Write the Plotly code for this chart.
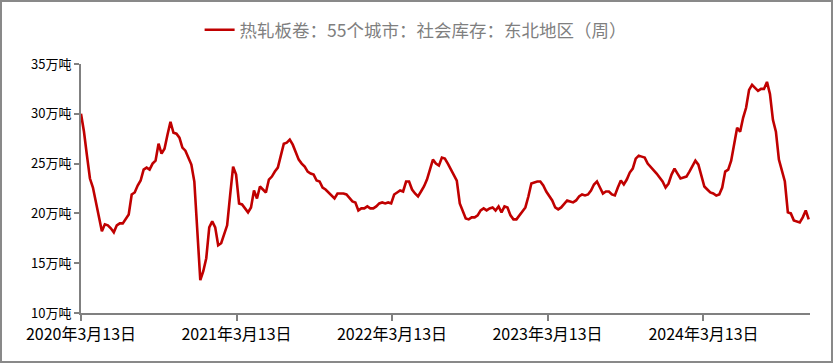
import plotly.graph_objects as go
import pandas as pd

start_date = "2020-03-13"
values = [
    30.0, 28.2, 25.8, 23.5, 22.6, 21.0, 19.6, 18.2, 18.9, 18.8,
    18.5, 18.1, 18.8, 19.0, 19.0, 19.4, 19.9, 21.9, 22.1, 22.8,
    23.3, 24.4, 24.6, 24.4, 25.0, 25.3, 27.0, 26.0, 26.5, 27.9,
    29.2, 28.1, 28.0, 27.6, 26.6, 26.3, 25.5, 24.9, 23.2, 18.5,
    13.3, 14.2, 15.5, 18.6, 19.2, 18.6, 16.8, 17.0, 17.9, 18.8,
    21.8, 24.7, 23.9, 21.0, 20.9, 20.5, 20.1, 20.6, 22.3, 21.5,
    22.7, 22.4, 22.1, 23.4, 23.7, 24.2, 24.6, 25.8, 27.0, 27.1,
    27.4, 26.9, 26.2, 25.4, 25.0, 24.7, 24.2, 24.0, 23.9, 23.3,
    23.2, 22.6, 22.4, 22.1, 21.8, 21.5, 22.0, 22.0, 22.0, 21.9,
    21.5, 21.2, 21.1, 20.3, 20.5, 20.5, 20.7, 20.5, 20.5, 20.7,
    21.0, 21.1, 21.0, 21.1, 21.0, 21.9, 22.1, 22.3, 22.2, 23.2,
    23.2, 22.4, 22.0, 21.7, 22.2, 22.7, 23.4, 24.5, 25.4, 25.0,
    24.8, 25.6, 25.5, 25.0, 24.4, 23.8, 23.3, 21.0, 20.2, 19.5,
    19.4, 19.6, 19.6, 19.8, 20.3, 20.5, 20.3, 20.5, 20.6, 20.3,
    20.7, 20.1, 20.7, 20.6, 19.8, 19.4, 19.4, 19.8, 20.1, 20.6,
    21.7, 23.0, 23.1, 23.2, 23.2, 22.8, 22.2, 21.7, 21.3, 20.6,
    20.4, 20.6, 20.9, 21.3, 21.2, 21.1, 21.3, 21.7, 21.9, 21.8,
    21.9, 22.3, 22.9, 23.2, 22.6, 22.0, 22.2, 22.2, 21.9, 21.8,
    22.6, 23.3, 22.9, 23.4, 24.1, 24.5, 25.5, 25.8, 25.7, 25.6,
    25.0, 24.7, 24.4, 24.0, 23.6, 23.2, 22.6, 23.0, 23.9, 24.5,
    24.0, 23.5, 23.6, 23.7, 24.2, 24.8, 25.3, 24.9, 23.8, 22.7,
    22.4, 22.1, 22.0, 21.8, 21.9, 22.6, 24.2, 24.4, 25.3, 27.1,
    28.6, 28.2, 29.6, 30.6, 32.4, 32.9, 32.6, 32.3, 32.5, 32.5,
    33.2, 32.0, 29.4, 28.2, 25.4, 24.3, 23.2, 20.1, 20.0, 19.3,
    19.2, 19.1, 19.6, 20.3, 19.4,
]
dates = pd.date_range(start_date, periods=len(values), freq="7D")

tick_dates = ["2020-03-13", "2021-03-13", "2022-03-13", "2023-03-13", "2024-03-13"]
tick_labels = ["2020年3月13日", "2021年3月13日", "2022年3月13日", "2023年3月13日", "2024年3月13日"]
y_ticks = [10, 15, 20, 25, 30, 35]
y_labels = ["10万吨", "15万吨", "20万吨", "25万吨", "30万吨", "35万吨"]
series_name = "热轧板卷：55个城市：社会库存：东北地区（周）"

FONT = "Liberation Sans Narrow, Noto Sans CJK SC, sans-serif"

fig = go.Figure()
fig.add_trace(go.Scatter(
    x=dates, y=values, mode="lines", name=series_name,
    line=dict(color="#C00000", width=2.6),
))

fig.update_layout(
    width=833, height=363,
    margin=dict(l=81, r=23, t=64, b=50, autoexpand=False),
    paper_bgcolor="white", plot_bgcolor="white",
    showlegend=True,
    legend=dict(orientation="h", x=0.459, xanchor="center", y=1.137, yanchor="middle",
                font=dict(family=FONT, size=17.5, color="#7f7f7f"),
                bgcolor="rgba(0,0,0,0)"),
    xaxis=dict(
        range=["2020-03-13", "2024-11-18"],
        tickvals=tick_dates, ticktext=tick_labels,
        showgrid=False, zeroline=False, automargin=False,
        showline=True, linecolor="#808080", linewidth=2,
        ticks="outside", tickcolor="#808080", tickwidth=2, ticklen=6,
        tickfont=dict(family=FONT, size=16, color="black"),
    ),
    yaxis=dict(
        range=[10, 35],
        tickvals=y_ticks, ticktext=y_labels,
        showgrid=False, zeroline=False, automargin=False,
        showline=True, linecolor="#808080", linewidth=2,
        ticks="outside", tickcolor="#808080", tickwidth=2, ticklen=5,
        tickfont=dict(family=FONT, size=13, color="black"),
    ),
    shapes=[dict(type="rect", xref="paper", yref="paper",
                 x0=(1 - 81) / 729, x1=(832 - 81) / 729,
                 y0=(313 - 362) / 249, y1=(313 - 1) / 249,
                 line=dict(color="#898989", width=2), layer="below")],
)

fig.write_html("out.html", config={"displayModeBar": False},
               post_script="document.body.style.margin='0';")
